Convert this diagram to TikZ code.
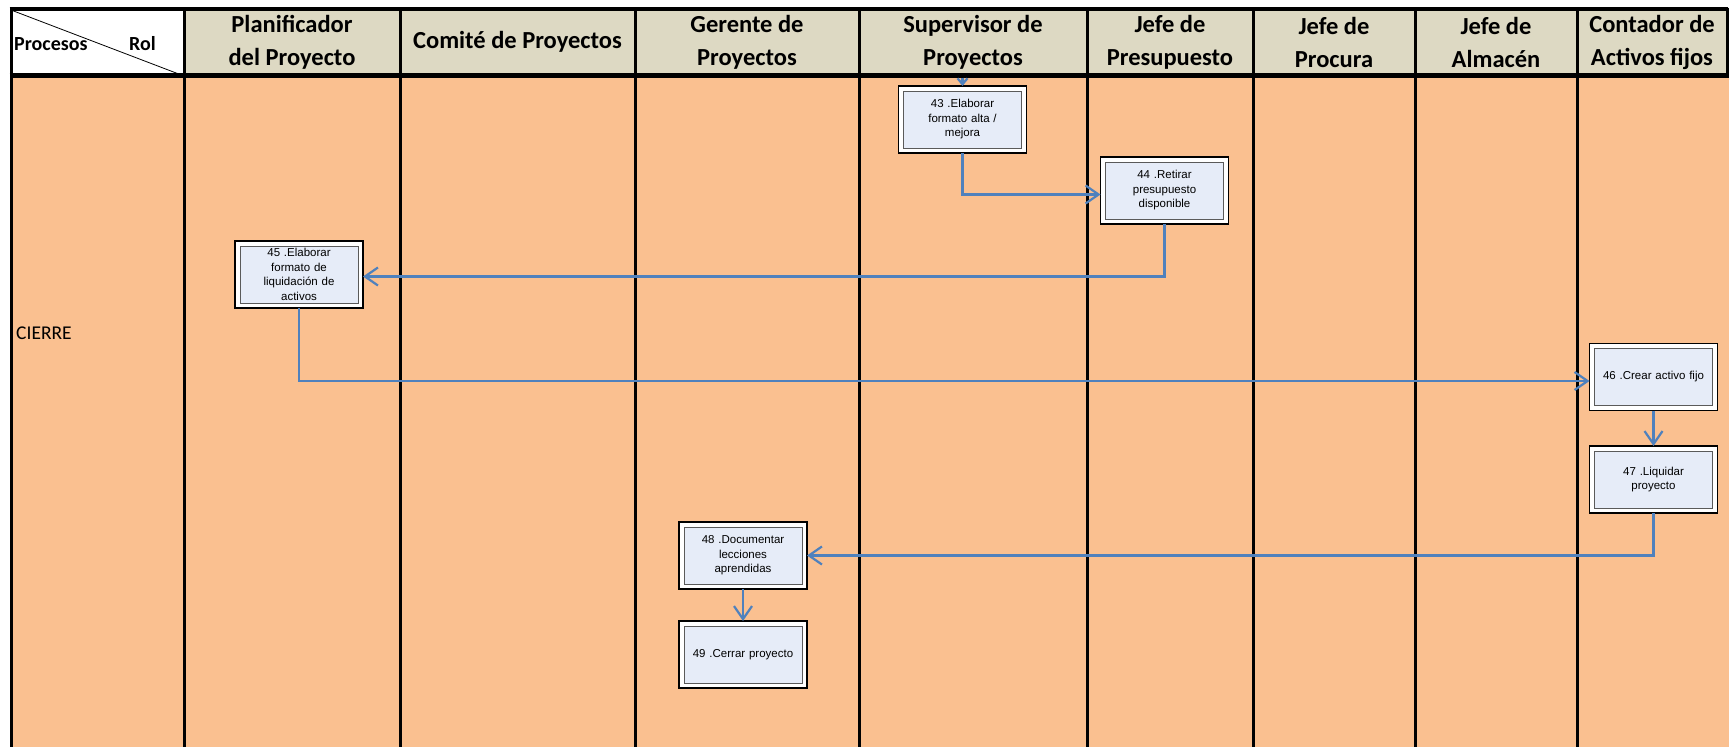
\documentclass[tikz,border=0pt]{standalone}
\usepackage{fontspec}
\setmainfont{Carlito}
\newfontfamily\arialf{Liberation Sans}
\usetikzlibrary{arrows.meta}
\definecolor{hdrfill}{HTML}{DDD9C3}
\definecolor{bodyfill}{HTML}{FAC090}
\definecolor{boxblue}{HTML}{E6ECF8}
\definecolor{arrblue}{HTML}{4F81BD}
\definecolor{innergray}{HTML}{5A5A5A}
\tikzset{
  hdrtext/.style={font=\fontsize{24.5}{33}\selectfont\bfseries, align=center, inner sep=0pt},
  cornertext/.style={font=\fontsize{20}{22}\selectfont\bfseries, anchor=west, inner sep=0pt},
  procbox/.style={draw=black, line width=1.6pt, fill=white, minimum width=128pt, minimum height=67pt,
    inner sep=0pt, outer sep=0pt, text width=116pt, align=center,
    font=\arialf\fontsize{11.5}{14.5}\selectfont,
    path picture={\draw[innergray, line width=1pt, fill=boxblue]
      ([xshift=5pt,yshift=-5pt]path picture bounding box.north west) rectangle
      ([xshift=-5pt,yshift=5pt]path picture bounding box.south east);}},
  flow/.style={draw=arrblue, line width=2.2pt, -{Straight Barb[length=13pt,width=18pt]}},
  gridline/.style={line width=3pt, black}
}
\begin{document}
\begin{tikzpicture}[x=1pt,y=-1pt]
\useasboundingbox (0,0) rectangle (1729,747);
% fills
\fill[white] (0,0) rectangle (1729,747);
\fill[hdrfill] (11,9) rectangle (1727,76);
\fill[white] (11,9) rectangle (184,76);
\fill[bodyfill] (11,76) rectangle (1729,747);
% diagonal in corner cell
\draw[line width=0.8pt] (11,10) -- (184,76);
% horizontal lines
\draw[line width=3.5pt] (9.5,9) -- (1728,9);
\draw[line width=5pt] (9.5,75) -- (1729,75);
% vertical lines
\foreach \xx in {11,184,400,635,859,1087,1253,1415,1577} {
  \draw[gridline] (\xx,7.5) -- (\xx,747);
}
\draw[gridline] (1727,7.5) -- (1727,76);
% header texts
\node[cornertext] (hproc) at (14,44) {Procesos};
\node[cornertext] (hrol) at (129,44) {Rol};
\node[hdrtext] (h1) at (292,42) {Planificador\\del Proyecto};
\node[hdrtext] (h2) at (517.5,42) {Comité de Proyectos};
\node[hdrtext] (h3) at (747,42) {Gerente de\\Proyectos};
\node[hdrtext] (h4) at (973,42) {Supervisor de\\Proyectos};
\node[hdrtext] (h5) at (1170,42) {Jefe de\\Presupuesto};
\node[hdrtext] (h6) at (1334,42) {Jefe de\\Procura};
\node[hdrtext] (h7) at (1496,42) {Jefe de\\Almacén};
\node[hdrtext] (h8) at (1652,42) {Contador de\\Activos fijos};
% process label
\node[font=\fontsize{19.5}{22}\selectfont, anchor=west, inner sep=0pt] (cierre) at (16,333) {CIERRE};
% boxes
\node[procbox] (b43) at (962.5,119.5) {43 .Elaborar\\formato alta /\\mejora};
\node[procbox] (b44) at (1164.5,190.5) {44 .Retirar\\presupuesto\\disponible};
\node[procbox] (b45) at (299,274.5) {45 .Elaborar\\formato de\\liquidación de\\activos};
\node[procbox] (b46) at (1653.5,377) {46 .Crear activo fijo};
\node[procbox] (b47) at (1653.5,479.5) {47 .Liquidar\\proyecto};
\node[procbox] (b48) at (743,555.5) {48 .Documentar\\lecciones\\aprendidas};
\node[procbox] (b49) at (743,654.5) {49 .Cerrar proyecto};
% connectors
\coordinate (s43) at (962.5,77.5);
\draw[draw=arrblue, line width=2.2pt, -{Straight Barb[length=6pt,width=10pt]}] (s43) -- (b43.north);
\draw[flow] (b43.south) |- ([yshift=-4pt]b44.west);
\draw[flow] (b44.south) |- ([yshift=-2pt]b45.east);
\draw[flow] (b45.south) |- ([yshift=-4pt]b46.west);
\draw[flow] (b46.south) -- (b47.north);
\draw[flow] (b47.south) |- (b48.east);
\draw[flow] (b48.south) -- (b49.north);
\end{tikzpicture}
\end{document}
